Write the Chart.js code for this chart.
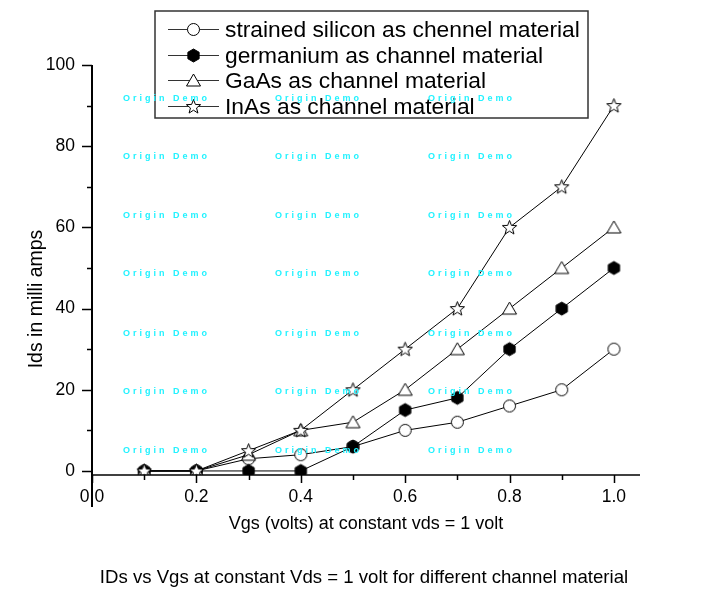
<!DOCTYPE html>
<html>
<head>
<meta charset="utf-8">
<script src="https://cdn.jsdelivr.net/npm/chart.js@4.4.0/dist/chart.umd.min.js"></script>
<style>
  body { margin: 0; background: #fff; }
  #wrap { width: 723px; height: 592px; }
</style>
</head>
<body>
<div id="wrap"><canvas id="idsChart" width="723" height="592"></canvas></div>
<script>
// Vgs sweep and drain current per channel material (mA)
const vgs = [0.1, 0.2, 0.3, 0.4, 0.5, 0.6, 0.7, 0.8, 0.9, 1.0];
const strainedSi = [0, 0, 3, 4, 6, 10, 12, 16, 20, 30];
const germanium = [0, 0, 0, 0, 6, 15, 18, 30, 40, 50];
const gaAs = [0, 0, 4, 10, 12, 20, 30, 40, 50, 60];
const inAs = [0, 0, 5, 10, 20, 30, 40, 60, 70, 90];

const seriesNames = [
  "strained silicon as chennel material",
  "germanium as channel material",
  "GaAs as channel material",
  "InAs as channel material",
];

const xTickValues = [0.0, 0.2, 0.4, 0.6, 0.8, 1.0];
const yTickValues = [0, 20, 40, 60, 80, 100];

const xTitle = "Vgs (volts) at constant vds = 1 volt";
const yTitle = "Ids in milli amps";
const caption = "IDs vs Vgs at constant Vds = 1 volt for different channel material";

const FONT = "Arial, 'Liberation Sans', sans-serif";

// Origin-like marker glyphs drawn on small canvases
function makeMarker(kind) {
  const c = document.createElement("canvas");
  c.width = 17;
  c.height = 17;
  const g = c.getContext("2d");
  g.translate(8.5, 8.5);
  g.lineWidth = 1;
  g.strokeStyle = "#000";
  g.fillStyle = "#fff";
  g.beginPath();
  if (kind === "circle") {
    g.arc(0, 0, 6, 0, Math.PI * 2);
  } else if (kind === "hexagon") {
    g.fillStyle = "#000";
    for (let i = 0; i < 6; i++) {
      const a = -Math.PI / 2 + (i * Math.PI) / 3;
      g.lineTo(6.5 * Math.cos(a), 6.5 * Math.sin(a));
    }
  } else if (kind === "triangle") {
    g.moveTo(0, -6.5);
    g.lineTo(7, 5.5);
    g.lineTo(-7, 5.5);
  } else if (kind === "star") {
    for (let i = 0; i < 10; i++) {
      const r = i % 2 === 0 ? 7.5 : 3.2;
      const a = -Math.PI / 2 + (i * Math.PI) / 5;
      g.lineTo(r * Math.cos(a), r * Math.sin(a) + 0.5);
    }
  }
  g.closePath();
  g.fill();
  g.stroke();
  return c;
}

const markers = [
  makeMarker("circle"),
  makeMarker("hexagon"),
  makeMarker("triangle"),
  makeMarker("star"),
];

function toPoints(values) {
  return vgs.map((v, i) => ({ x: v, y: values[i] }));
}

const seriesValues = [strainedSi, germanium, gaAs, inAs];

const datasets = seriesValues.map((values, i) => ({
  label: seriesNames[i],
  data: toPoints(values),
  borderColor: "#000",
  borderWidth: 1,
  pointStyle: markers[i],
  pointRadius: 6,
  fill: false,
  tension: 0,
  order: 4 - i,
}));

// axis lines and major/minor ticks in Origin style
const originAxes = {
  id: "originAxes",
  afterDraw(chart) {
    const { ctx, chartArea } = chart;
    const x = chart.scales.x;
    const y = chart.scales.y;
    ctx.save();
    ctx.strokeStyle = "#000";

    // y axis, running a bit past the x axis
    ctx.lineWidth = 2;
    ctx.beginPath();
    ctx.moveTo(chartArea.left, chartArea.top);
    ctx.lineTo(chartArea.left, chartArea.bottom + 32);
    ctx.stroke();

    // x axis
    ctx.lineWidth = 1.5;
    ctx.beginPath();
    ctx.moveTo(chartArea.left, chartArea.bottom);
    ctx.lineTo(chartArea.right, chartArea.bottom);
    ctx.stroke();

    ctx.lineWidth = 1.5;
    ctx.beginPath();
    yTickValues.forEach((v, i) => {
      const py = Math.round(y.getPixelForValue(v)) + 0.5;
      ctx.moveTo(chartArea.left - 10, py);
      ctx.lineTo(chartArea.left, py);
      if (i < yTickValues.length - 1) {
        const mid = (v + yTickValues[i + 1]) / 2;
        const my = Math.round(y.getPixelForValue(mid)) + 0.5;
        ctx.moveTo(chartArea.left - 5, my);
        ctx.lineTo(chartArea.left, my);
      }
    });
    xTickValues.forEach((v, i) => {
      const px = Math.round(x.getPixelForValue(v)) + 0.5;
      ctx.moveTo(px, chartArea.bottom);
      ctx.lineTo(px, chartArea.bottom + 8);
      if (i < xTickValues.length - 1) {
        const mid = (v + xTickValues[i + 1]) / 2;
        const mx = Math.round(x.getPixelForValue(mid)) + 0.5;
        ctx.moveTo(mx, chartArea.bottom);
        ctx.lineTo(mx, chartArea.bottom + 5);
      }
    });
    ctx.stroke();
    ctx.restore();
  },
};

// y title and bottom caption sit off-centre in the original
const extraTexts = {
  id: "extraTexts",
  afterDraw(chart) {
    const ctx = chart.ctx;
    ctx.save();
    ctx.fillStyle = "#000";
    ctx.textAlign = "center";
    ctx.textBaseline = "middle";

    ctx.font = "19.5px " + FONT;
    ctx.translate(37, 299);
    ctx.rotate(-Math.PI / 2);
    ctx.fillText(yTitle, 0, 0);
    ctx.setTransform(1, 0, 0, 1, 0, 0);

    ctx.font = "18.6px " + FONT;
    ctx.fillText(caption, 364, 578);
    ctx.restore();
  },
};

// boxed legend with line + marker samples
const boxedLegend = {
  id: "boxedLegend",
  afterDraw(chart) {
    const ctx = chart.ctx;
    const box = { left: 155, top: 11, width: 433, height: 107 };
    ctx.save();
    ctx.strokeStyle = "#333";
    ctx.lineWidth = 1.5;
    ctx.strokeRect(box.left, box.top, box.width, box.height);

    ctx.font = "22.8px " + FONT;
    ctx.textBaseline = "middle";
    ctx.fillStyle = "#000";
    seriesNames.forEach((name, i) => {
      const ry = Math.round(box.top + 18 + i * 25.6) + 0.5;
      ctx.strokeStyle = "#333";
      ctx.lineWidth = 1.2;
      ctx.beginPath();
      ctx.moveTo(168, ry);
      ctx.lineTo(219, ry);
      ctx.stroke();
      const m = markers[i];
      ctx.drawImage(m, 193.5 - m.width / 2, ry - m.height / 2);
      ctx.fillText(name, 225, ry + 1);
    });
    ctx.restore();
  },
};

// demo watermark on top of everything
const watermark = {
  id: "watermark",
  afterDraw(chart) {
    const ctx = chart.ctx;
    const cols = [123, 275, 428];
    const rows = [99, 157, 216, 274, 334, 392, 451];
    ctx.save();
    ctx.font = "bold 9px " + FONT;
    ctx.letterSpacing = "3px";
    ctx.fillStyle = "#22f2ff";
    ctx.textBaseline = "middle";
    rows.forEach((ry) => {
      cols.forEach((cx) => {
        ctx.fillText("Origin Demo", cx, ry);
      });
    });
    ctx.restore();
  },
};

new Chart(document.getElementById("idsChart"), {
  type: "line",
  data: { datasets },
  options: {
    responsive: false,
    animation: false,
    layout: {
      padding: { left: 0, top: 65, right: 83, bottom: 0 },
    },
    plugins: {
      legend: { display: false },
      tooltip: { enabled: false },
    },
    scales: {
      x: {
        type: "linear",
        min: 0,
        max: 1.05,
        grid: { display: false, drawTicks: false },
        border: { display: false },
        afterBuildTicks(scale) {
          scale.ticks = xTickValues.map((v) => ({ value: v }));
        },
        afterFit(scale) {
          scale.height = 117;
        },
        ticks: {
          color: "#000",
          padding: 12,
          maxRotation: 0,
          autoSkip: false,
          font: { family: FONT, size: 17.5 },
          callback: (v) => Number(v).toFixed(1),
        },
        title: {
          display: true,
          text: xTitle,
          color: "#000",
          font: { family: FONT, size: 18, lineHeight: 1.2 },
          padding: { top: 0, bottom: 57.2 },
        },
      },
      y: {
        type: "linear",
        min: -1,
        max: 100,
        grid: { display: false, drawTicks: false },
        border: { display: false },
        afterBuildTicks(scale) {
          scale.ticks = yTickValues.map((v) => ({ value: v }));
        },
        afterFit(scale) {
          scale.width = 92;
        },
        ticks: {
          color: "#000",
          padding: 17,
          autoSkip: false,
          font: { family: FONT, size: 17.5 },
          callback: (v) => String(v),
        },
      },
    },
  },
  plugins: [originAxes, extraTexts, boxedLegend, watermark],
});
</script>
</body>
</html>
